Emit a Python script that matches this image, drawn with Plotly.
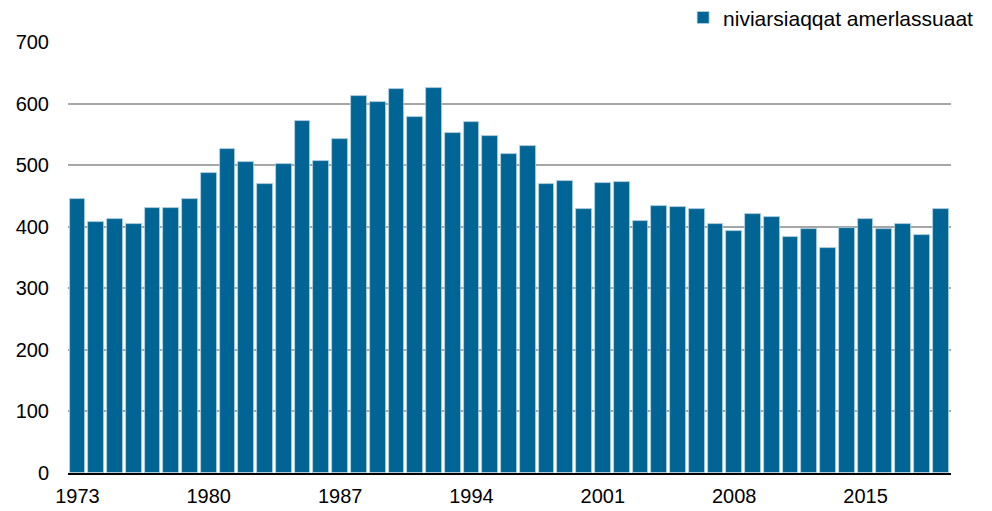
import plotly.graph_objects as go

years = list(range(1973, 2020))
values = [445, 407, 413, 404, 430, 430, 445, 488, 527, 505, 469, 502, 571, 506, 543,
          613, 603, 623, 579, 626, 553, 570, 548, 518, 531, 469, 474, 429, 471, 473,
          409, 433, 432, 428, 405, 393, 420, 415, 383, 396, 365, 398, 413, 396, 404,
          386, 428]
series_name = "niviarsiaqqat amerlassuaat"
tick_years = [1973, 1980, 1987, 1994, 2001, 2008, 2015]
y_ticks = [0, 100, 200, 300, 400, 500, 600, 700]

fig = go.Figure()
fig.add_trace(go.Bar(
    x=years, y=values, name=series_name,
    marker=dict(color="#006494", line=dict(color="#b8d3e0", width=0.8)),
    width=0.84, showlegend=True,
))

font = "Liberation Sans, Arial, sans-serif"
fig.update_layout(
    width=992, height=511,
    margin=dict(l=68, r=41, t=42, b=38, autoexpand=False),
    paper_bgcolor="white", plot_bgcolor="white",
    font=dict(family=font, size=20, color="#000000"),
    showlegend=True,
    legend=dict(
        xref="container", yref="container",
        x=0.986, xanchor="right", y=0.965, yanchor="middle",
        orientation="h", font=dict(size=21, family=font),
        itemwidth=30, bgcolor="rgba(0,0,0,0)",
        tracegroupgap=0,
    ),
    bargap=0,
    xaxis=dict(
        range=[1972.5, 2019.55], tickmode="array", tickvals=tick_years,
        ticktext=[str(t) for t in tick_years],
        showgrid=False, showline=True, linecolor="#000000", linewidth=2,
        ticks="", zeroline=False, ticklabelstandoff=4,
    ),
    yaxis=dict(
        range=[0, 700], tickmode="array", tickvals=y_ticks,
        showgrid=True, gridcolor="#a6a6a6", gridwidth=1.5,
        zeroline=False, showline=False, ticks="", ticklabelstandoff=18,
    ),
)

fig.write_html("out.html", config={"displayModeBar": False},
               post_script="document.body.style.margin='0';")
